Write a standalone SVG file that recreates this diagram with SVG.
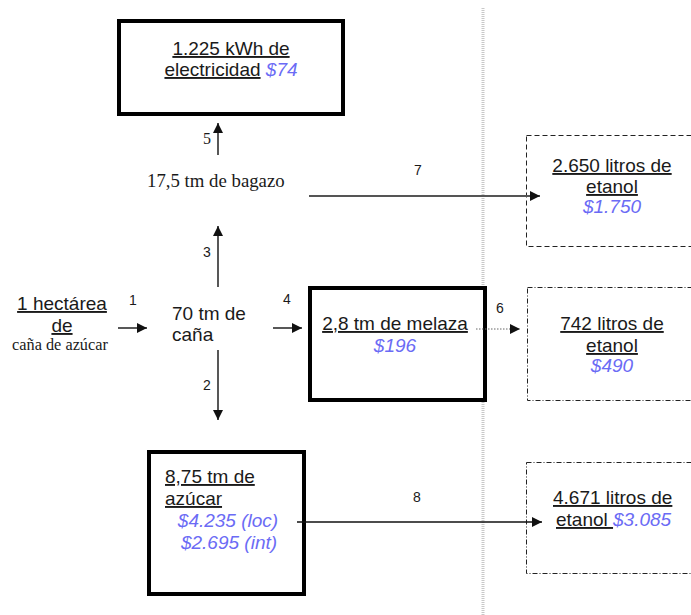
<svg xmlns="http://www.w3.org/2000/svg" width="691" height="615" viewBox="0 0 691 615">
<defs>
<marker id="ah" markerUnits="userSpaceOnUse" markerWidth="11" markerHeight="10" refX="10" refY="5" orient="auto">
<path d="M0,0 L10,5 L0,10 z" fill="#111"/>
</marker>
<style>
.a{font-family:"Liberation Sans",Arial,sans-serif;font-size:19px;fill:#1a1a1a}
.t{font-family:"Liberation Serif","Times New Roman",serif;fill:#1a1a1a}
.u{text-decoration:underline}
.b{fill:#6b6bf5;font-style:italic}
.n{font-family:"Liberation Sans",Arial,sans-serif;font-size:14px;fill:#1a1a1a}
.thick{fill:#fff;stroke:#000;stroke-width:4}
.dash{fill:none;stroke:#222;stroke-width:1;stroke-dasharray:5,3}
.dd{fill:none;stroke:#222;stroke-width:1;stroke-dasharray:5,2,1,2}
.c{fill:none;stroke:#111;stroke-width:1.4}
</style>
</defs>
<rect width="691" height="615" fill="#fff"/>
<line x1="483" y1="8" x2="483" y2="615" stroke="#c8c8c8" stroke-width="3" stroke-dasharray="1,1"/>

<g id="hectarea">
<text class="a u" x="62" y="310" text-anchor="middle">1 hectárea</text>
<text class="a u" x="62" y="332" text-anchor="middle">de</text>
<text class="t" font-size="16.3" x="60" y="350" text-anchor="middle">caña de azúcar</text>
</g>

<g id="cana">
<text class="a" x="172" y="320">70 tm de</text>
<text class="a" x="172" y="341">caña</text>
</g>

<g id="bagazo">
<text class="t" font-size="18.8" x="147" y="187">17,5 tm de bagazo</text>
</g>

<g id="electricidad">
<rect class="thick" x="119" y="21" width="224" height="93"/>
<text class="a u" x="231" y="55" text-anchor="middle">1.225 kWh de</text>
<text class="a" x="231" y="76" text-anchor="middle"><tspan class="u">electricidad</tspan> <tspan class="b">$74</tspan></text>
</g>

<g id="melaza">
<rect class="thick" x="310" y="288" width="175" height="112"/>
<text class="a u" x="395" y="330" text-anchor="middle">2,8 tm de melaza</text>
<text class="a b" x="395" y="352" text-anchor="middle">$196</text>
</g>

<g id="azucar">
<rect class="thick" x="149" y="452" width="155" height="142"/>
<text class="a u" x="165" y="483">8,75 tm de</text>
<text class="a u" x="165" y="505">azúcar</text>
<text class="a b" x="228" y="527" text-anchor="middle">$4.235 (loc)</text>
<text class="a b" x="229" y="549" text-anchor="middle">$2.695 (int)</text>
</g>

<g id="etanol1">
<rect class="dash" x="526.5" y="135.5" width="180" height="111"/>
<text class="a u" x="612" y="172" text-anchor="middle">2.650 litros de</text>
<text class="a u" x="612" y="193" text-anchor="middle">etanol</text>
<text class="a b" x="612" y="213" text-anchor="middle">$1.750</text>
</g>

<g id="etanol2">
<rect class="dd" x="527.5" y="287.5" width="180" height="113"/>
<text class="a u" x="612" y="330" text-anchor="middle">742 litros de</text>
<text class="a u" x="612" y="352" text-anchor="middle">etanol</text>
<text class="a b" x="612" y="372" text-anchor="middle">$490</text>
</g>

<g id="etanol3">
<rect class="dd" x="526.5" y="462.5" width="180" height="111"/>
<text class="a u" x="553" y="504">4.671 litros de</text>
<text class="a" x="556" y="526"><tspan class="u">etanol </tspan><tspan class="b">$3.085</tspan></text>
</g>

<g id="connectors">
<line class="c" x1="118" y1="328" x2="147" y2="328" marker-end="url(#ah)"/>
<line class="c" x1="273" y1="328" x2="302" y2="328" marker-end="url(#ah)"/>
<line class="c" x1="218" y1="287" x2="218" y2="226" marker-end="url(#ah)"/>
<line class="c" x1="218" y1="155" x2="218" y2="123" marker-end="url(#ah)"/>
<line class="c" x1="218" y1="350" x2="218" y2="420" marker-end="url(#ah)"/>
<line x1="309" y1="196" x2="540" y2="196" stroke="#555" stroke-width="1.8" marker-end="url(#ah)"/>
<line x1="476" y1="329" x2="520" y2="329" stroke="#666" stroke-width="1" stroke-dasharray="1.5,1.5" marker-end="url(#ah)"/>
<line class="c" x1="297" y1="522" x2="542" y2="522" marker-end="url(#ah)"/>
<text class="n" x="133" y="305" text-anchor="middle">1</text>
<text class="n" x="287" y="304" text-anchor="middle">4</text>
<text class="n" x="500" y="313" text-anchor="middle">6</text>
<text class="n" x="418" y="175" text-anchor="middle">7</text>
<text class="n" x="417" y="502" text-anchor="middle">8</text>
<text class="n" x="207" y="390" text-anchor="middle">2</text>
<text class="n" x="207" y="257" text-anchor="middle">3</text>
<text class="t" font-size="16" x="207" y="144" text-anchor="middle">5</text>
</g>
</svg>
